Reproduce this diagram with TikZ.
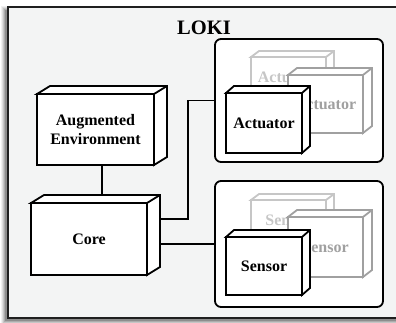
\documentclass[tikz,border=0pt]{standalone}
\usepackage{fontspec}
\setmainfont{Liberation Serif}
\usetikzlibrary{calc}

\definecolor{panel}{RGB}{243,244,244}
\definecolor{ghostA}{RGB}{198,198,198}
\definecolor{ghostB}{RGB}{160,160,160}

\tikzset{
  cubeface/.style={draw=black, fill=white, line width=1.8pt, outer sep=0pt, inner sep=0pt,
    align=center, font=\bfseries\fontsize{16}{19}\selectfont},
  cubeedge/.style={draw=black, fill=white, line width=1.8pt, line join=miter},
  ghostfar/.style={draw=ghostA, text=ghostA},
  ghostmid/.style={draw=ghostB, text=ghostB},
  solid cube/.style={},
  group/.style={draw=black, fill=white, line width=1.8pt, rounded corners=6pt, outer sep=0pt},
  wire/.style={draw=black, line width=1.8pt},
}

% 3-D node box: #1 style, #2 name, #3 centre, #4 width, #5 height, #6 depth vector, #7 label
\newcommand\cubebox[7]{%
  \node[cubeface,#1,minimum width=#4,minimum height=#5] (#2) at #3 {#7};
  \draw[cubeedge,#1] (#2.north west) -- ++#6 -- ($(#2.north east)+#6$)
    -- ($(#2.south east)+#6$) -- (#2.south east) -- (#2.north east) -- cycle;
  \draw[cubeedge,#1] (#2.north east) -- ++#6;
}

\begin{document}
\begin{tikzpicture}[x=1pt,y=-1pt]
  \useasboundingbox (0,0) rectangle (396,322);
  \clip (0,0) rectangle (396,322);

  % soft shadow of the outer frame
  \foreach \e/\o in {4/0.06,3/0.08,2/0.10,1/0.13,0/0.18}
    \fill[black,opacity=\o] (5-\e,10-\e) rectangle (430,321+\e);

  % outer frame
  \draw[line width=1.8pt, draw=black!88, fill=panel] (8,7) rectangle (430,318);
  \node[font=\bfseries\fontsize{20.5}{24}\selectfont, inner sep=0pt] (title) at (204,27.5) {LOKI};

  % main nodes
  \cubebox{solid cube}{ae}{(95.5,129.5)}{117pt}{71pt}{(13,-8)}{Augmented\\Environment}
  \cubebox{solid cube}{core}{(89,239)}{116pt}{72pt}{(13,-8)}{Core}

  % groups
  \node[group, minimum width=168pt, minimum height=123pt] (actg) at (299,100.5) {};
  \node[group, minimum width=168pt, minimum height=126pt] (sensg) at (299,244) {};

  % actuators
  \cubebox{ghostfar}{act3}{(288.5,77)}{75pt}{40pt}{(8,-6)}{Actuator}
  \cubebox{ghostmid}{act2}{(325.5,104)}{75pt}{58pt}{(9,-7)}{Actuator}
  \cubebox{solid cube}{act1}{(264,123)}{76pt}{60pt}{(8,-7)}{Actuator}

  % sensors
  \cubebox{ghostfar}{sen3}{(288.5,220)}{75pt}{40pt}{(8,-6)}{Sensor}
  \cubebox{ghostmid}{sen2}{(325.5,247)}{75pt}{60pt}{(9,-7)}{Sensor}
  \cubebox{solid cube}{sen1}{(264,266)}{76pt}{58pt}{(8,-7)}{Sensor}

  % connectors
  \coordinate (coretop) at ($(core.north)+(13,-8)$);
  \coordinate (coreside) at ($(core.east)+(13,-8)$);
  \draw[wire] (coretop) -- (coretop |- ae.south);
  \draw[wire] ($(coreside)+(0,-12)$) -| ($(actg.west)+(-27,0)$) -- (actg.west);
  \draw[wire] (coreside |- sensg.west) -- (sensg.west);
\end{tikzpicture}
\end{document}
